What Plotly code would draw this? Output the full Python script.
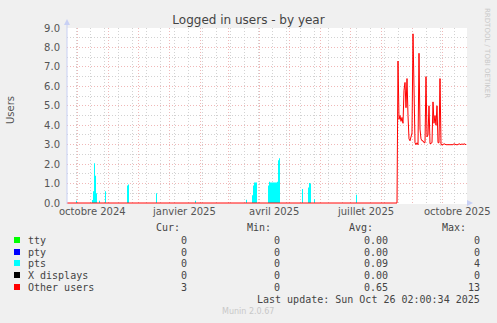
import plotly.graph_objects as go
import pandas as pd

# ---------------- data ----------------
range_start = "2024-09-21"
range_end = "2025-10-26"

pts_dates = ["2024-09-30", "2024-10-16", "2024-10-17", "2024-10-18", "2024-10-19", "2024-10-20",
             "2024-10-23", "2024-10-29", "2024-11-20", "2024-11-21", "2024-12-19", "2025-01-27",
             "2025-03-19", "2025-03-25", "2025-03-26", "2025-03-27", "2025-03-28", "2025-03-29",
             "2025-04-10", "2025-04-11", "2025-04-12", "2025-04-13", "2025-04-14", "2025-04-15",
             "2025-04-16", "2025-04-17", "2025-04-18", "2025-04-19", "2025-04-20", "2025-04-21",
             "2025-05-14", "2025-05-20", "2025-05-21", "2025-05-22", "2025-05-26", "2025-07-07"]
pts_values = [0.12, 0.15, 0.6, 2.05, 1.4, 0.5,
              0.12, 0.6, 0.9, 0.95, 0.5, 0.12,
              0.17, 0.4, 0.9, 1.05, 1.05, 1.05,
              0.9, 1.1, 1.05, 1.05, 1.05, 1.05,
              1.05, 1.05, 1.05, 1.1, 2.2, 2.3,
              0.72, 0.8, 1.03, 1.0, 0.2, 0.43]

other_first_date = "2025-08-18"
other_values = [7.3, 4.3, 4.5, 4.2, 4.4, 4.1, 5.8, 6.2, 4.9, 6.4,
                4.5, 3.3, 3.2, 3.4, 3.6, 8.7, 5.5, 3.1, 3.0, 3.1,
                3.0, 7.7, 3.8, 3.3, 3.2, 3.2, 3.1, 3.1, 6.5, 3.4,
                3.5, 5.0, 3.05, 3.1, 3.1, 5.2, 4.1, 4.5, 4.0, 5.0,
                3.1, 3.1, 6.4, 3.0,
                3.0, 3.0, 3.05, 3.0, 3.0, 3.0, 3.0, 3.0, 3.0, 3.0,
                3.0, 3.0, 3.05, 3.0, 3.0, 3.0, 3.0, 3.05, 3.0, 3.0,
                3.05, 3.0, 3.05, 3.0, 3.0]

month_labels = ["octobre 2024", "janvier 2025", "avril 2025", "juillet 2025", "octobre 2025"]
month_label_dates = ["2024-10-16", "2025-01-16", "2025-04-16", "2025-07-16", "2025-10-16"]

legend_names = ["tty", "pty", "pts", "X displays", "Other users"]
legend_colors = ["#00FF00", "#0000FF", "#00FFFF", "#000000", "#FF0000"]
cur_vals = ["0", "0", "0", "0", "3"]
min_vals = ["0", "0", "0", "0", "0"]
avg_vals = ["0.00", "0.00", "0.09", "0.00", "0.65"]
max_vals = ["0", "0", "4", "0", "13"]
last_update = "Last update: Sun Oct 26 02:00:34 2025"

# ---------------- series building ----------------
days = pd.date_range(range_start, "2025-10-25", freq="D")
pts = pd.Series(0.0, index=days)
pts.loc[pd.to_datetime(pts_dates)] = pts_values
other = pd.Series(0.0, index=days)
other_idx = pd.date_range(other_first_date, periods=len(other_values), freq="D")
other.loc[other_idx] = other_values

# ---------------- geometry ----------------
W, H = 497, 323
L, R, T, B = 67, 30, 28, 119
PW, PH = W - L - R, H - T - B


def px(x):
    return (x - L) / PW


def py(y):
    return (H - B - y) / PH


fig = go.Figure()
fig.add_trace(go.Scatter(x=days, y=pts.values, mode="lines", line=dict(color="#00FFFF", width=0, shape="hv"),
                         fill="tozeroy", fillcolor="#00FFFF", hoverinfo="skip", name="pts"))
fig.add_trace(go.Scatter(x=days, y=other.values, mode="lines", line=dict(color="#FF0000", width=1),
                         hoverinfo="skip", name="Other users"))

major_grid = "#F0B8B8"
minor_grid = "#D2D2D2"

fig.update_layout(
    width=W, height=H,
    margin=dict(l=L, r=R, t=T, b=B),
    paper_bgcolor="#F0F0F0", plot_bgcolor="#FFFFFF",
    showlegend=False,
    font=dict(family="DejaVu Sans", size=10, color="#555555"),
    title=dict(text="Logged in users - by year", x=0.5, xref="container", xanchor="center",
               y=1 - 20 / H, yref="container", yanchor="middle",
               font=dict(family="DejaVu Sans", size=12, color="#444444")),
    xaxis=dict(type="date", range=[range_start, range_end], showticklabels=False, ticks="",
               tickmode="linear", tick0="2024-10-01", dtick="M1",
               showgrid=True, gridcolor=major_grid, griddash="1px,2px", gridwidth=1,
               minor=dict(tickmode="linear", tick0="2024-09-30", dtick=14 * 86400000, showgrid=True,
                          gridcolor=minor_grid, griddash="1px,2px", gridwidth=1),
               zeroline=False, showline=False, automargin=False, fixedrange=True),
    yaxis=dict(range=[-0.05, 9.0], tickmode="linear", tick0=0, dtick=1, tickformat=".1f",
               showgrid=True, gridcolor=major_grid, griddash="1px,2px", gridwidth=1,
               minor=dict(tick0=0, dtick=0.5, showgrid=True, gridcolor=minor_grid,
                          griddash="1px,2px", gridwidth=1),
               ticks="", ticklabelstandoff=6, zeroline=False, showline=False,
               automargin=False, fixedrange=True,
               tickfont=dict(family="DejaVu Sans", size=10, color="#555555")),
)

axis_col = "#C8D0F4"
shapes = [
    dict(type="line", xref="paper", yref="paper", x0=0, x1=0, y0=py(204), y1=py(24),
         line=dict(color=axis_col, width=1)),
    dict(type="path", xref="paper", yref="paper",
         path=f"M {px(64)} {py(25)} L {px(70)} {py(25)} L {px(67)} {py(19)} Z",
         fillcolor=axis_col, line=dict(color=axis_col, width=0)),
    dict(type="path", xref="paper", yref="paper",
         path=f"M {px(467)} {py(200)} L {px(467)} {py(206)} L {px(473)} {py(203)} Z",
         fillcolor=axis_col, line=dict(color=axis_col, width=0)),
]

annotations = []
for lab, d in zip(month_labels, month_label_dates):
    annotations.append(dict(x=d, xref="x", y=py(211), yref="paper", text=lab, showarrow=False,
                            xanchor="center", yanchor="middle",
                            font=dict(family="DejaVu Sans", size=10, color="#555555")))
annotations.append(dict(x=px(10), y=py(110), xref="paper", yref="paper", text="Users", showarrow=False,
                        textangle=-90, xanchor="center", yanchor="middle",
                        font=dict(family="DejaVu Sans", size=10, color="#555555")))
annotations.append(dict(x=px(487), y=py(53), xref="paper", yref="paper", text="RRDTOOL / TOBI OETIKER",
                        showarrow=False, textangle=90, xanchor="center", yanchor="middle",
                        font=dict(family="DejaVu Sans", size=7, color="#C8C8C8")))

mono = dict(family="DejaVu Sans Mono", size=10, color="#444444")
headers = [("Cur:", 182), ("Min:", 273), ("Avg:", 375), ("Max:", 468)]
for h, xr in headers:
    annotations.append(dict(x=px(xr), y=py(227), xref="paper", yref="paper", text=h, showarrow=False,
                            xanchor="right", yanchor="middle", font=mono))

row_y = [240, 252, 263, 275, 287]
for i, name in enumerate(legend_names):
    yy = row_y[i]
    shapes.append(dict(type="rect", xref="paper", yref="paper", x0=px(14), x1=px(20),
                       y0=py(yy + 3), y1=py(yy - 3), fillcolor=legend_colors[i],
                       line=dict(width=0)))
    annotations.append(dict(x=px(26), y=py(yy), xref="paper", yref="paper", text=name, showarrow=False,
                            xanchor="left", yanchor="middle", font=mono))
    for vals, xr in [(cur_vals, 189), (min_vals, 282), (avg_vals, 390), (max_vals, 482)]:
        annotations.append(dict(x=px(xr), y=py(yy), xref="paper", yref="paper", text=vals[i],
                                showarrow=False, xanchor="right", yanchor="middle", font=mono))

annotations.append(dict(x=px(482), y=py(299), xref="paper", yref="paper", text=last_update, showarrow=False,
                        xanchor="right", yanchor="middle", font=mono))
annotations.append(dict(x=px(248), y=py(311), xref="paper", yref="paper", text="Munin 2.0.67", showarrow=False,
                        xanchor="center", yanchor="middle",
                        font=dict(family="DejaVu Sans", size=8, color="#C8C8C8")))

fig.update_layout(shapes=shapes, annotations=annotations)
fig.write_html("out.html")
